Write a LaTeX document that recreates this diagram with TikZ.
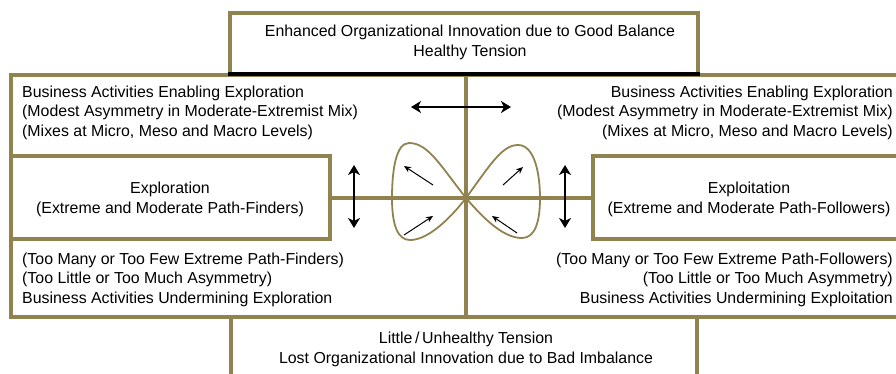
\documentclass[tikz,border=0pt]{standalone}
\usepackage{fontspec}
\setmainfont{Liberation Sans}
\usetikzlibrary{arrows.meta}
\definecolor{frameol}{RGB}{145,131,80}
\begin{document}
\begin{tikzpicture}[x=1pt,y=-1pt,
  frame/.style={draw=frameol,line width=4pt},
  lobe/.style={draw=frameol,line width=1.8pt},
  txt/.style={font=\fontsize{15.9}{19.6}\selectfont,inner sep=0pt},
  bigarrow/.style={line width=2.8pt,{Stealth[length=10pt,width=12pt,inset=3pt]}-{Stealth[length=10pt,width=12pt,inset=3pt]}},
  smallarrow/.style={line width=1pt,-{Stealth[length=7pt,width=6pt]}}]
\useasboundingbox (0,0) rectangle (896,373);
% frame
\draw[frame] (11,75) rectangle (905,317);
\draw[frame] (230,13) rectangle (698,74);
\draw[line width=4pt,black] (228,74) -- (700,74);
\draw[frame] (11,156) rectangle (330,239);
\draw[frame] (593,156) rectangle (905,239);
\draw[frame] (466,76) -- (466,317);
\draw[frame] (330,198) -- (593,198);
\draw[frame] (231,317) rectangle (697,385);
% bowtie
\draw[lobe] (466,198) .. controls (440,165) and (428,143) .. (409,143)
  .. controls (396,143) and (392,170) .. (392,198)
  .. controls (392,226) and (398,240) .. (410,240)
  .. controls (425,240) and (445,225) .. (466,198);
\draw[lobe] (466,198) .. controls (490,165) and (502,145) .. (518,145)
  .. controls (535,145) and (540,175) .. (540,198)
  .. controls (540,222) and (535,238) .. (522,238)
  .. controls (506,238) and (488,224) .. (466,198);
% arrows
\coordinate (hL) at (411,107); \coordinate (hR) at (511,107);
\coordinate (vL1) at (354,165); \coordinate (vL2) at (354,228);
\coordinate (vR1) at (565,165); \coordinate (vR2) at (565,228);
\draw[bigarrow] (hL) -- (hR);
\draw[bigarrow] (vL1) -- (vL2);
\draw[bigarrow] (vR1) -- (vR2);
\coordinate (a1s) at (433,185); \coordinate (a1e) at (404,166);
\coordinate (a2s) at (404,235); \coordinate (a2e) at (433,216);
\coordinate (a3s) at (503,185); \coordinate (a3e) at (523,167);
\coordinate (a4s) at (517,233); \coordinate (a4e) at (492,216);
\draw[smallarrow] (a1s) -- (a1e);
\draw[smallarrow] (a2s) -- (a2e);
\draw[smallarrow] (a3s) -- (a3e);
\draw[smallarrow] (a4s) -- (a4e);
% texts
\node[txt,align=center] (top) at (470,42.5) {Enhanced Organizational Innovation due to Good Balance\\Healthy Tension};
\node[txt,align=left,anchor=west] (ul) at (22,112.5) {Business Activities Enabling Exploration\\(Modest Asymmetry in Moderate-Extremist Mix)\\(Mixes at Micro, Meso and Macro Levels)};
\node[txt,align=right,anchor=east] (ur) at (893,112.5) {Business Activities Enabling Exploration\\(Modest Asymmetry in Moderate-Extremist Mix)\\(Mixes at Micro, Meso and Macro Levels)};
\node[txt,align=center] (explor) at (170,199.5) {Exploration\\(Extreme and Moderate Path-Finders)};
\node[txt,align=center] (exploit) at (749,199.5) {Exploitation\\(Extreme and Moderate Path-Followers)};
\node[txt,align=left,anchor=west] (ll) at (22,279.5) {(Too Many or Too Few Extreme Path-Finders)\\(Too Little or Too Much Asymmetry)\\Business Activities Undermining Exploration};
\node[txt,align=right,anchor=east] (lr) at (893,279.5) {(Too Many or Too Few Extreme Path-Followers)\\(Too Little or Too Much Asymmetry)\\Business Activities Undermining Exploitation};
\node[txt,align=center] (bot) at (466,349.5) {Little\,/\,Unhealthy Tension\\Lost Organizational Innovation due to Bad Imbalance};
\end{tikzpicture}
\end{document}
